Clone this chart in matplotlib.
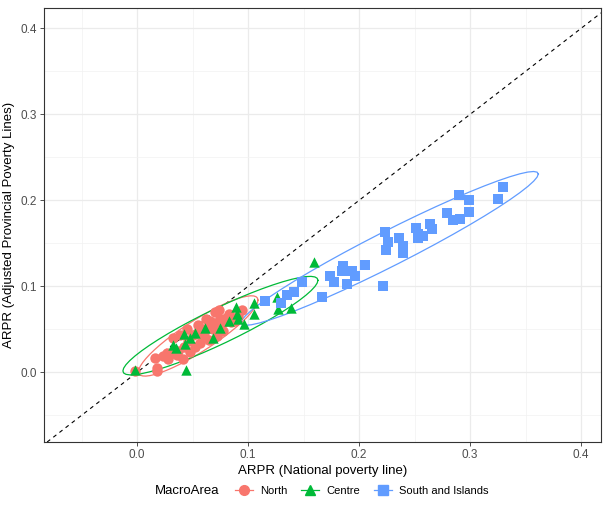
import numpy as np
import matplotlib
matplotlib.use("Agg")
import matplotlib.pyplot as plt
from matplotlib.lines import Line2D

plt.rcParams['font.family'] = ['Liberation Sans', 'DejaVu Sans']

# data (ARPR national line vs adjusted provincial lines)
north_x = [-0.002, 0.018, 0.018, 0.016, 0.023, 0.027, 0.028, 0.032, 0.032, 0.037,
           0.039, 0.041, 0.042, 0.045, 0.046, 0.048, 0.050, 0.052, 0.054, 0.055,
           0.057, 0.059, 0.060, 0.062, 0.064, 0.065, 0.066, 0.068, 0.070, 0.070,
           0.072, 0.074, 0.075, 0.077, 0.078, 0.080, 0.083, 0.085, 0.088, 0.091,
           0.095, 0.036]
north_y = [0.002, 0.002, 0.005, 0.017, 0.019, 0.023, 0.016, 0.022, 0.040, 0.025,
           0.044, 0.016, 0.030, 0.050, 0.037, 0.024, 0.043, 0.030, 0.046, 0.055,
           0.034, 0.051, 0.043, 0.062, 0.052, 0.038, 0.060, 0.050, 0.057, 0.070,
           0.042, 0.073, 0.062, 0.048, 0.058, 0.063, 0.068, 0.058, 0.060, 0.066,
           0.072, 0.020]

centre_x = [-0.002, 0.032, 0.035, 0.042, 0.043, 0.044, 0.048, 0.052, 0.061, 0.068,
            0.075, 0.083, 0.089, 0.090, 0.091, 0.096, 0.105, 0.105, 0.126, 0.127,
            0.139, 0.159]
centre_y = [0.003, 0.032, 0.028, 0.045, 0.033, 0.003, 0.040, 0.046, 0.052, 0.040,
            0.052, 0.060, 0.076, 0.068, 0.062, 0.056, 0.081, 0.068, 0.088, 0.074,
            0.075, 0.128]

south_x = [0.115, 0.130, 0.135, 0.141, 0.149, 0.167, 0.174, 0.177, 0.185, 0.186,
           0.189, 0.194, 0.196, 0.205, 0.222, 0.223, 0.224, 0.226, 0.236, 0.240,
           0.240, 0.251, 0.253, 0.253, 0.258, 0.264, 0.266, 0.279, 0.285, 0.290,
           0.291, 0.299, 0.299, 0.325, 0.330]
south_y = [0.083, 0.081, 0.090, 0.094, 0.105, 0.088, 0.112, 0.105, 0.118, 0.124,
           0.103, 0.118, 0.112, 0.125, 0.101, 0.163, 0.142, 0.152, 0.156, 0.147,
           0.139, 0.168, 0.161, 0.156, 0.159, 0.173, 0.167, 0.185, 0.177, 0.206,
           0.178, 0.201, 0.186, 0.202, 0.215]

groups = ["North", "Centre", "South and Islands"]
colors = ["#F8766D", "#00BA38", "#619CFF"]
markers = ["o", "^", "s"]


def t_ellipse(x, y, level=0.95, nu=5, segments=51):
    # same recipe as ggplot2::stat_ellipse(type = "t"), cov.trob style weights
    pts = np.column_stack([x, y])
    n, p = pts.shape
    loc = pts.mean(axis=0)
    shape = np.cov(pts.T)
    for _ in range(200):
        d = pts - loc
        d2 = np.einsum('ij,jk,ik->i', d, np.linalg.inv(shape), d)
        w = (nu + p) / (nu + d2)
        new_loc = (w[:, None] * pts).sum(axis=0) / w.sum()
        d = pts - new_loc
        new_shape = (w[:, None, None] * np.einsum('ij,ik->ijk', d, d)).sum(axis=0) / n
        done = np.allclose(new_loc, loc) and np.allclose(new_shape, shape)
        loc, shape = new_loc, new_shape
        if done:
            break
    dfd = n - 1
    qf = dfd / 2 * ((1 - level) ** (-2 / dfd) - 1)
    radius = np.sqrt(2 * qf)
    ang = np.linspace(0, 2 * np.pi, segments)
    circle = np.column_stack([np.cos(ang), np.sin(ang)])
    R = np.linalg.cholesky(shape).T
    ell = loc + radius * circle @ R
    return ell[:, 0], ell[:, 1]


fig = plt.figure(figsize=(6.03, 5.11), dpi=100)
ax = fig.add_axes([0.073, 0.135, 0.9237, 0.8493])

ax.axline((0, 0), slope=1, color="black", linestyle=(0, (3.5, 3.5)), linewidth=0.8, zorder=2)

data = [(north_x, north_y), (centre_x, centre_y), (south_x, south_y)]
for (xs, ys), col, mk in zip(data, colors, markers):
    ex, ey = t_ellipse(xs, ys)
    ax.plot(ex, ey, color=col, linewidth=0.9, zorder=3)
for (xs, ys), col, mk in zip(data, colors, markers):
    ax.scatter(xs, ys, color=col, marker=mk, s=56 if mk != "s" else 50,
               linewidths=0, zorder=4)

ax.set_xlim(-0.0838, 0.418)
ax.set_ylim(-0.081, 0.4237)
ax.set_xticks([0.0, 0.1, 0.2, 0.3, 0.4])
ax.set_yticks([0.0, 0.1, 0.2, 0.3, 0.4])
ax.set_xticks(np.arange(-0.05, 0.41, 0.1), minor=True)
ax.set_yticks(np.arange(-0.05, 0.41, 0.1), minor=True)
ax.set_xticklabels(["0.0", "0.1", "0.2", "0.3", "0.4"])
ax.set_yticklabels(["0.0", "0.1", "0.2", "0.3", "0.4"])
ax.grid(which="major", color="#EBEBEB", linewidth=0.9)
ax.grid(which="minor", color="#F2F2F2", linewidth=0.5)
ax.set_axisbelow(True)
ax.tick_params(which="major", length=3, width=0.6, color="#333333",
               labelsize=8.5, labelcolor="#4D4D4D", pad=2)
ax.tick_params(which="minor", length=0)
for sp in ax.spines.values():
    sp.set_color("#333333")
    sp.set_linewidth(0.8)

ax.set_xlabel("ARPR (National poverty line)", fontsize=9.5, labelpad=3)
ax.set_ylabel("ARPR (Adjusted Provincial Poverty Lines)", fontsize=9.5, labelpad=4)

handles = [Line2D([], [], color=c, marker=m, markersize=7, linewidth=0.9)
           for c, m in zip(colors, markers)]
fig.text(155 / 603, 1 - 491 / 511, "MacroArea", fontsize=9.5, va="center", ha="left")
fig.legend(handles, groups, loc="center left", bbox_to_anchor=(235 / 603, 1 - 491 / 511),
           ncol=3, frameon=False, fontsize=8, handlelength=1.6, handletextpad=0.7,
           columnspacing=1.2, borderpad=0, borderaxespad=0)

fig.savefig("out.png", dpi=100)
